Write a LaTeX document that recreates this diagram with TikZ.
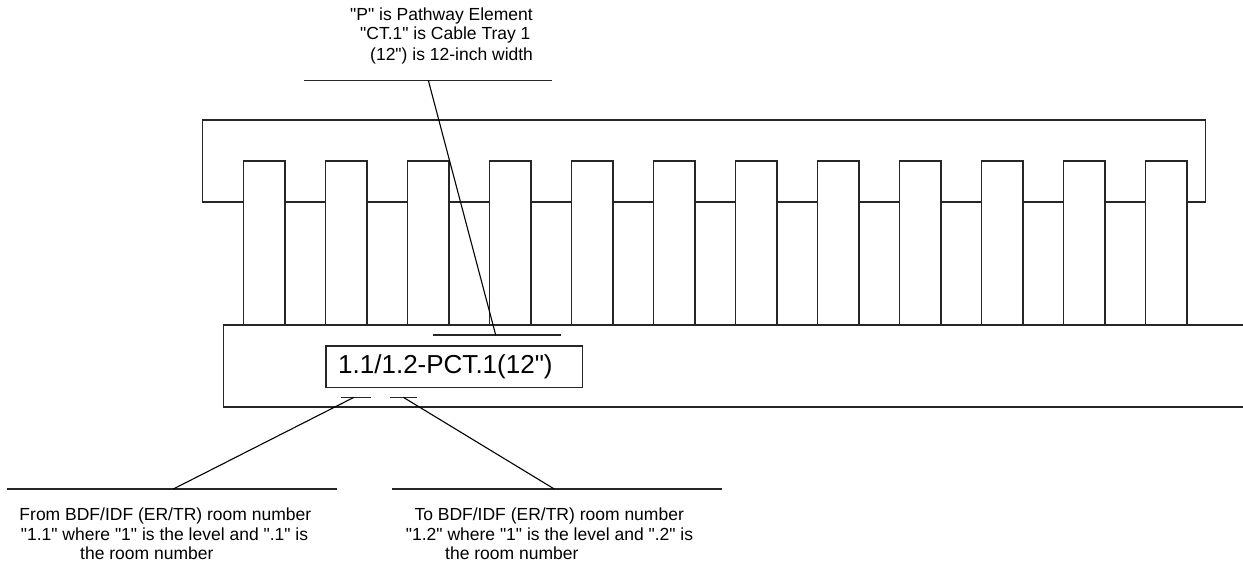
\documentclass[tikz,border=0pt]{standalone}
\usepackage{fontspec}
\setmainfont{Liberation Sans}[Ligatures=TeXOff]
\begin{document}
\begin{tikzpicture}[x=1pt,y=-1pt,
  outline/.style={draw=black!85,line width=1.4pt},
  leader/.style={draw=black,line width=1.1pt},
  note/.style={anchor=base west,inner sep=0pt,font=\fontsize{17.5}{20}\selectfont},
  tag/.style={anchor=base west,inner sep=0pt,font=\fontsize{26}{30}\selectfont}]
\useasboundingbox (0,0) rectangle (1243,561);
% comb frame
\draw[outline] (202.7,120) rectangle (1205.7,202);
\foreach \i in {0,...,11}{
  \filldraw[outline,fill=white] ({243.7+82*\i},161) rectangle ({284.9+82*\i},325);
}
% tray bar (open to the right)
\draw[outline] (1243,325) -- (223.3,325) -- (223.3,407) -- (1243,407);
% label box
\draw[outline] (326,346) rectangle (582.7,387.3);
\node[tag] (lbl) at (338,373.5) {1.1/1.2-PCT.1(12")};
% top callout
\coordinate (t1) at (304.3,80.3);
\coordinate (t2) at (552.3,80.3);
\coordinate (tl) at (428.3,80.3);
\coordinate (m1) at (432.7,335);
\coordinate (m2) at (560.7,335);
\coordinate (ml) at (495.7,335);
\draw[outline] (t1) -- (t2);
\draw[outline] (m1) -- (m2);
\draw[leader] (tl) -- (ml);
\node[note] (top1) at (350,20.7) {"P" is Pathway Element};
\node[note] (top2) at (360,40) {"CT.1" is Cable Tray 1};
\node[note] (top3) at (370,60.3) {(12") is 12-inch width};
% bottom callouts
\coordinate (a1) at (340.7,397.3);
\coordinate (a2) at (371,397.3);
\coordinate (al) at (354,397.3);
\coordinate (b1) at (390,397.3);
\coordinate (b2) at (417.3,397.3);
\coordinate (bl) at (403.3,397.3);
\coordinate (la) at (7.3,489);
\coordinate (lb) at (336.7,489);
\coordinate (ll) at (173.3,489);
\coordinate (ra) at (391.7,489);
\coordinate (rb) at (721.7,489);
\coordinate (rl) at (554.3,489);
\draw[outline] (a1) -- (a2);
\draw[outline] (b1) -- (b2);
\draw[outline] (la) -- (lb);
\draw[outline] (ra) -- (rb);
\draw[leader] (al) -- (ll);
\draw[leader] (bl) -- (rl);
\node[note] (l1) at (19.3,520.7) {From BDF/IDF (ER/TR) room number};
\node[note] (l2) at (20.7,540.3) {"1.1" where "1" is the level and ".1" is};
\node[note,text depth=0pt] (l3) at (80,559) {the room number};
\node[note] (r1) at (414.3,520.7) {To BDF/IDF (ER/TR) room number};
\node[note] (r2) at (405.7,540.3) {"1.2" where "1" is the level and ".2" is};
\node[note,text depth=0pt] (r3) at (445,559) {the room number};
\end{tikzpicture}
\end{document}
